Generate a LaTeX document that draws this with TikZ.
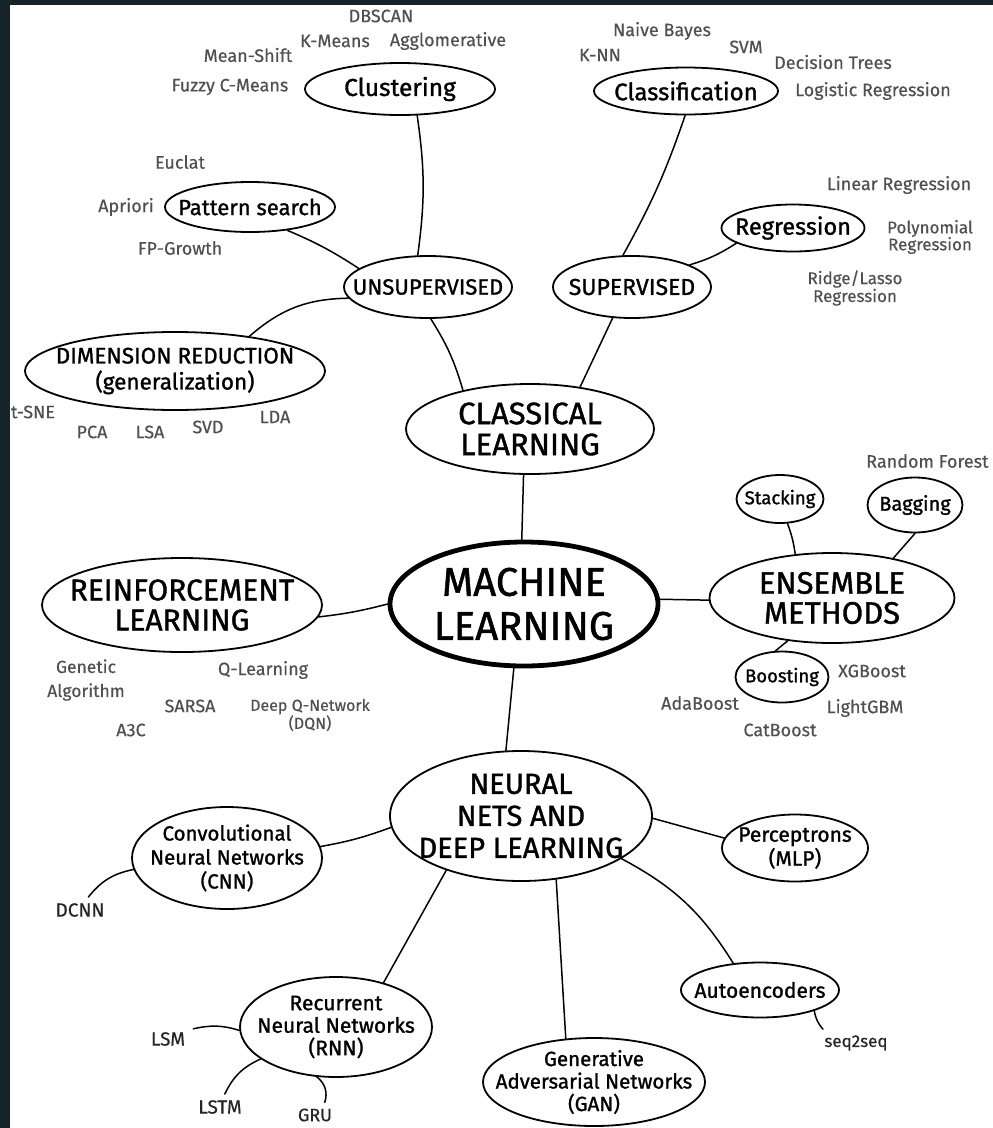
\documentclass[tikz,border=0pt]{standalone}
\usepackage{fontspec}
\setmainfont{Fira Sans}
\newfontfamily\nfont[FakeBold=1.2]{Fira Sans}
\newfontfamily\lfont[FakeBold=0.4]{Fira Sans}
\usetikzlibrary{shapes.geometric}
\definecolor{framec}{HTML}{17232B}
\definecolor{leafc}{HTML}{505050}
\definecolor{leafd}{HTML}{262626}
\newcommand{\fsz}[2]{\fontsize{#1}{#2}\selectfont}
\begin{document}
\begin{tikzpicture}[x=1pt,y=1pt,
  el/.style={ellipse, draw, line width=1.8pt, inner sep=0pt},
  tx/.style={align=center, inner sep=0pt, text=black},
  lf/.style={text=leafc, inner sep=1pt, align=center, font=\lfont\fsz{18}{20}},
  ld/.style={text=leafd, inner sep=6pt, align=center, font=\lfont\fsz{19}{21}},
  cn/.style={line width=1.5pt, line cap=round}]
\fill[white] (0,0) rectangle (993,-1128);
\useasboundingbox (0,0) rectangle (993,-1128);

% main nodes
\node[el, line width=4.8pt, minimum width=268, minimum height=124] (ml) at (524,-604) {};
\node[tx, font=\nfont\fsz{40}{44}] (mlt) at (ml) {MACHINE\\LEARNING};
\node[el, minimum width=248, minimum height=90] (cl) at (530,-429) {};
\node[tx, font=\nfont\fsz{31}{31}] (clt) at (cl) {CLASSICAL\\LEARNING};
\node[el, minimum width=168, minimum height=62] (unsup) at (428,-287) {};
\node[tx, font=\nfont\fsz{22}{24}] (unsupt) at (unsup) {UNSUPERVISED};
\node[el, minimum width=158, minimum height=62] (sup) at (632,-287) {};
\node[tx, font=\nfont\fsz{23}{24}] (supt) at (sup) {SUPERVISED};
\node[el, minimum width=190, minimum height=52] (clu) at (400,-89) {};
\node[tx, font=\nfont\fsz{24.5}{24}] (clut) at (clu) {Clustering};
\node[el, minimum width=184, minimum height=47] (cla) at (686,-91) {};
\node[tx, font=\nfont\fsz{24}{24}] (clat) at (cla) {Classification};
\node[el, minimum width=170, minimum height=50] (pat) at (250,-207) {};
\node[tx, font=\nfont\fsz{22}{22}] (patt) at (pat) {Pattern search};
\node[el, minimum width=143, minimum height=47] (reg) at (793,-228) {};
\node[tx, font=\nfont\fsz{23.5}{24}] (regt) at (reg) {Regression};
\node[el, minimum width=300, minimum height=78] (dim) at (175,-371) {};
\node[tx, font=\nfont\fsz{22.5}{26}] (dimt) at (dim) {DIMENSION REDUCTION\\(generalization)};
\node[el, minimum width=280, minimum height=94] (rl) at (182,-605) {};
\node[tx, font=\nfont\fsz{30}{30}] (rlt) at (rl) {REINFORCEMENT\\LEARNING};
\node[el, minimum width=245, minimum height=90] (ens) at (832,-598) {};
\node[tx, font=\nfont\fsz{31}{30}] (enst) at (ens) {ENSEMBLE\\METHODS};
\node[el, minimum width=87, minimum height=48] (stk) at (780,-499) {};
\node[tx, font=\nfont\fsz{18.5}{19}] (stkt) at (stk) {Stacking};
\node[el, minimum width=95, minimum height=55] (bag) at (915,-505) {};
\node[tx, font=\nfont\fsz{20}{19}] (bagt) at (bag) {Bagging};
\node[el, minimum width=93, minimum height=51] (boo) at (782,-677) {};
\node[tx, font=\nfont\fsz{18.5}{19}] (boot) at (boo) {Boosting};
\node[el, minimum width=262, minimum height=130] (nn) at (521,-816) {};
\node[tx, font=\nfont\fsz{29}{32}] (nnt) at (nn) {NEURAL\\NETS AND\\DEEP LEARNING};
\node[el, minimum width=190, minimum height=102] (cnn) at (227,-858) {};
\node[tx, font=\nfont\fsz{20.5}{24}] (cnnt) at (cnn) {Convolutional\\Neural Networks\\(CNN)};
\node[el, minimum width=146, minimum height=67] (per) at (795,-848) {};
\node[tx, font=\nfont\fsz{21}{24}] (pert) at (per) {Perceptrons\\(MLP)};
\node[el, minimum width=192, minimum height=100] (rnn) at (336,-1027) {};
\node[tx, font=\nfont\fsz{21}{22.5}] (rnnt) at (rnn) {Recurrent\\Neural Networks\\(RNN)};
\node[el, minimum width=158, minimum height=55] (aut) at (760,-990) {};
\node[tx, font=\nfont\fsz{21}{22}] (autt) at (aut) {Autoencoders};
\node[el, minimum width=222, minimum height=88] (gan) at (594,-1082) {};
\node[tx, font=\nfont\fsz{20.5}{22.5}] (gant) at (gan) {Generative\\Adversarial Networks\\(GAN)};

% leaves
\node[lf] (dbscan) at (381,-16) {DBSCAN};
\node[lf] (kmeans) at (335,-41) {K-Means};
\node[lf] (agglo) at (448,-41) {Agglomerative};
\node[lf] (meanshift) at (248,-55) {Mean-Shift};
\node[lf] (fuzzy) at (230,-87) {Fuzzy C-Means};
\node[lf] (euclat) at (180,-162) {Euclat};
\node[lf] (apriori) at (126,-207) {Apriori};
\node[lf] (fpg) at (180,-248) {FP-Growth};
\node[lf] (tsne) at (33,-412) {t-SNE};
\node[lf] (pca) at (92,-432) {PCA};
\node[lf] (lsa) at (150,-432) {LSA};
\node[lf] (svd) at (208,-427) {SVD};
\node[lf] (lda) at (275,-417) {LDA};
\node[lf] (nb) at (662,-31) {Naive Bayes};
\node[lf] (knn) at (600,-55) {K-NN};
\node[lf] (svm) at (746,-47) {SVM};
\node[lf] (dt) at (833,-62) {Decision Trees};
\node[lf] (logr) at (873,-91) {Logistic Regression};
\node[lf] (linr) at (899,-185) {Linear Regression};
\node[lf, font=\lfont\fsz{17}{17}] (polr) at (930,-237) {Polynomial\\Regression};
\node[lf, font=\lfont\fsz{17}{16}] (ridge) at (855,-288) {Ridge/Lasso\\Regression};
\node[lf, anchor=west] (rf) at (865,-461) {Random Forest};
\node[lf] (xgb) at (872,-671) {XGBoost};
\node[lf] (ada) at (700,-703) {AdaBoost};
\node[lf] (lgbm) at (865,-708) {LightGBM};
\node[lf] (cat) at (780,-730) {CatBoost};
\node[lf, font=\lfont\fsz{17.5}{24}] (gen) at (86,-680) {Genetic\\Algorithm};
\node[lf] (ql) at (263,-670) {Q-Learning};
\node[lf] (sarsa) at (190,-706) {SARSA};
\node[lf, font=\lfont\fsz{16}{18}] (dqn) at (310,-715) {Deep Q-Network\\(DQN)};
\node[lf] (a3c) at (131,-730) {A3C};
\node[ld] (dcnn) at (80,-910) {DCNN};
\node[ld, inner sep=8pt] (lsm) at (168,-1039) {LSM};
\node[ld] (lstm) at (220,-1107) {LSTM};
\node[ld, inner sep=6pt, font=\lfont\fsz{18}{20}] (gru) at (315,-1115) {GRU};
\node[ld, font=\lfont\fsz{17}{18}] (seq) at (856,-1043) {seq2seq};

% connectors
\draw[cn] (ml.92) -- (cl.262);
\draw[cn] (ml.180) to[bend left=4] (rl.355);
\draw[cn] (ml.2) -- (ens.181);
\draw[cn] (ml.261) -- (nn.103);
\draw[cn] (cl.150) to[bend right=8] (unsup.275);
\draw[cn] (cl.40) -- (sup.238);
\draw[cn] (unsup.108) to[bend right=8] (clu.303);
\draw[cn] (unsup.165) to[bend right=5] (pat.328);
\draw[cn] (unsup.188) to[bend right=20] (dim.25);
\draw[cn] (sup.106) to[bend right=5] (cla.268);
\draw[cn] (sup.21) to[bend right=8] (reg.195);
\draw[cn] (ens.130) to[bend right=6] (stk.287);
\draw[cn] (ens.33) -- (bag.270);
\draw[cn] (ens.224) -- (boo.104);
\draw[cn] (nn.185) to[bend left=5] (cnn.7);
\draw[cn] (nn.359) -- (per.172);
\draw[cn] (nn.216) -- (rnn.43);
\draw[cn] (nn.299) -- (gan.123);
\draw[cn] (nn.337) to[bend left=15] (aut.135);
\draw[cn] (cnn.187) to[bend right=20] (dcnn);
\draw[cn] (rnn.182) to[bend right=15] (lsm);
\draw[cn] (rnn.203) to[bend right=20] (lstm);
\draw[cn] (rnn.249) to[bend left=35] (gru);
\draw[cn] (aut.339) to[bend right=15] (seq);

% dark frame (left and top edges)
\fill[framec] (0,0) rectangle (10,-1128);
\fill[framec] (0,0) rectangle (993,-5);
\end{tikzpicture}
\end{document}
